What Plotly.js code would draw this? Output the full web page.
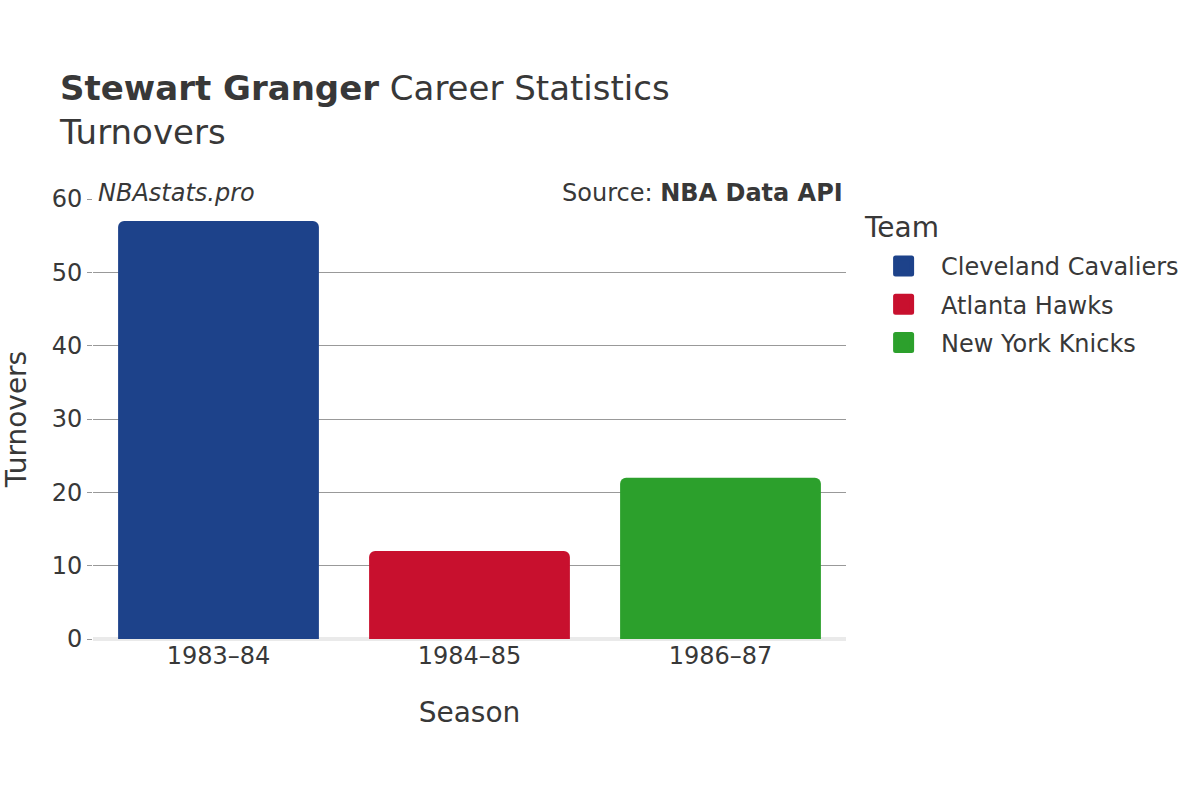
<!DOCTYPE html>
<html>
<head>
<meta charset="utf-8">
<script src="https://cdn.plot.ly/plotly-3.0.1.min.js"></script>
<style>
body{margin:0;padding:0;background:#fff}
#chart{width:1200px;height:800px}
.legendpoints path{stroke-linejoin:round}
</style>
</head>
<body>
<div id="chart"></div>
<script>
const teams = ["Cleveland Cavaliers", "Atlanta Hawks", "New York Knicks"];
const seasons = ["1983–84", "1984–85", "1986–87"];
const turnovers = [57, 12, 22];
const colors = ["#1d428a", "#c8102e", "#2ca02c"];
const legendTitle = "Team";

const barTraces = teams.map((t, i) => ({
  type: "bar",
  name: t,
  x: [seasons[i]],
  y: [turnovers[i]],
  marker: {color: colors[i], cornerradius: 6},
  showlegend: false,
  legendgroup: t,
  hovertemplate: "%{x}: %{y}<extra>" + t + "</extra>"
}));

const legendTraces = teams.map((t, i) => ({
  type: "scatter",
  mode: "markers",
  name: t,
  x: [null],
  y: [null],
  legendgroup: t,
  marker: {symbol: "square", size: 16, color: colors[i], line: {color: colors[i], width: 6}},
  hoverinfo: "skip"
}));

const font = "DejaVu Sans, sans-serif";
const layout = {
  width: 1200, height: 800,
  margin: {l: 93, r: 354, t: 199, b: 161},
  paper_bgcolor: "#fff", plot_bgcolor: "#fff",
  font: {family: font, color: "#383838", size: 20},
  barmode: "overlay",
  bargap: 0.2,
  title: {
    text: "<b>Stewart Granger</b> Career Statistics<br>Turnovers",
    x: 60/1200, xanchor: "left", y: 0.875, yanchor: "top",
    font: {size: 34, family: font, color: "#383838"}
  },
  xaxis: {
    type: "category",
    categoryarray: seasons,
    title: {text: "Season", font: {size: 28}, standoff: 33},
    tickfont: {size: 24},
    showgrid: false,
    ticks: "", ticklen: 0
  },
  yaxis: {
    range: [0, 60],
    dtick: 10,
    title: {text: "Turnovers", font: {size: 28}, standoff: 26},
    tickfont: {size: 24},
    gridcolor: "#999",
    gridwidth: 1,
    zeroline: true, zerolinecolor: "#eaeaea", zerolinewidth: 4,
    ticks: "outside", ticklen: 5, tickcolor: "#999"
  },
  legend: {
    x: 1.0267, xanchor: "left", y: 0.8977, yanchor: "top",
    font: {size: 24},
    tracegroupgap: 4,
    itemwidth: 65
  },
  annotations: [
    {text: legendTitle, xref: "paper", yref: "paper", x: (862-93)/753, y: (639-227)/440, xanchor: "left", yanchor: "middle", showarrow: false, font: {size: 28, family: font, color: "#383838"}},
    {text: "<i>NBAstats.pro</i>", xref: "paper", yref: "paper", x: 0.004, y: 1.0, xanchor: "left", yanchor: "bottom", yshift: -10, showarrow: false, font: {size: 24, family: font, color: "#383838"}},
    {text: "Source: <b>NBA Data API</b>", xref: "paper", yref: "paper", x: 0.999, y: 1.0, xanchor: "right", yanchor: "bottom", yshift: -10, showarrow: false, font: {size: 24, family: font, color: "#383838"}}
  ]
};

Plotly.newPlot("chart", barTraces.concat(legendTraces), layout, {displayModeBar: false});
</script>
</body>
</html>
